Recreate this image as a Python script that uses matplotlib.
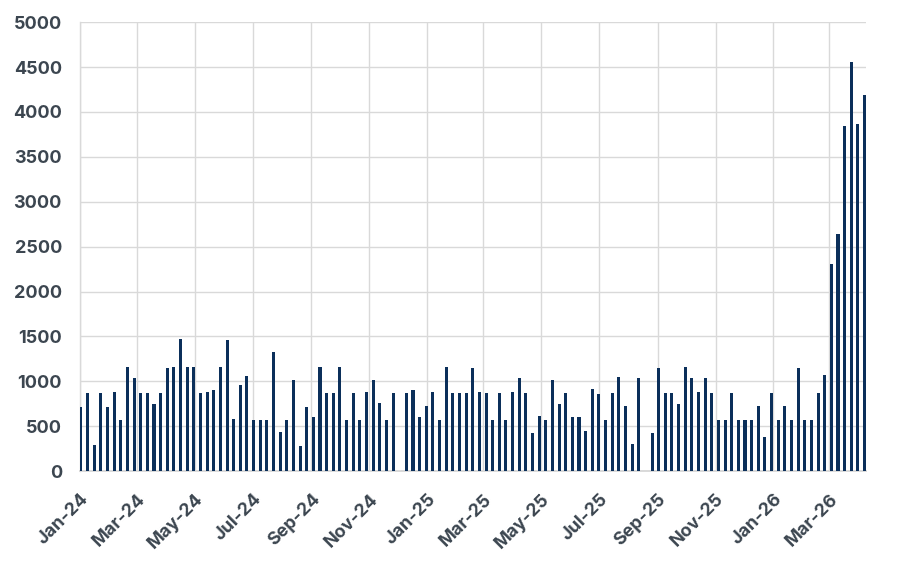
import matplotlib
matplotlib.use('Agg')
import matplotlib.pyplot as plt
import matplotlib.dates as mdates
import numpy as np
import pandas as pd

# weekly counts
values = [720, 865, 290, 865, 720, 885, 575, 1155, 1035, 865,
          875, 745, 865, 1145, 1165, 1470, 1165, 1165, 865, 885,
          900, 1155, 1460, 585, 965, 1065, 575, 575, 575, 1325,
          440, 575, 1010, 285, 720, 600, 1155, 865, 865, 1155,
          575, 865, 575, 885, 1010, 755, 575, 865, 0, 865,
          900, 600, 730, 885, 575, 1155, 865, 875, 865, 1145,
          885, 865, 575, 865, 575, 885, 1035, 865, 430, 610,
          575, 1020, 745, 875, 600, 600, 450, 920, 855, 575,
          865, 1045, 730, 305, 1035, 0, 430, 1145, 865, 865,
          745, 1155, 1035, 885, 1035, 865, 575, 575, 875, 575,
          575, 575, 730, 375, 865, 575, 730, 575, 1145, 575,
          575, 865, 1075, 2310, 2645, 3845, 4560, 3870, 4190]
weeks = pd.date_range('2024-01-02', periods=len(values), freq='7D')

bar_color = '#0b2f5a'
grid_color = '#d9d9d9'
text_color = '#3c4650'

plt.rcParams['font.family'] = ['Inter', 'DejaVu Sans']

fig = plt.figure(figsize=(9.05, 5.67), dpi=100)
ax = fig.add_axes([0.0884, 0.169, 0.869, 0.792])

ax.bar(weeks, values, width=3.2, color=bar_color, zorder=3)

ax.set_ylim(0, 5000)
ax.set_yticks(np.arange(0, 5001, 500))
ax.set_xlim(pd.Timestamp('2024-01-01'), pd.Timestamp('2026-04-09'))
ax.xaxis.set_major_locator(mdates.MonthLocator(bymonth=[1, 3, 5, 7, 9, 11]))
ax.xaxis.set_major_formatter(mdates.DateFormatter('%b-%y'))

ax.grid(True, color=grid_color, linewidth=1.0, zorder=0)
for side in ['top', 'right']:
    ax.spines[side].set_visible(False)
ax.spines['left'].set_color(grid_color)
ax.spines['bottom'].set_color(grid_color)
ax.spines['bottom'].set_linewidth(1.4)
ax.spines['left'].set_linewidth(1.0)
ax.tick_params(length=0)
ax.tick_params(axis='y', pad=13)
ax.tick_params(axis='x', pad=14)

for lab in ax.get_yticklabels():
    lab.set_fontsize(13)
    lab.set_fontweight('bold')
    lab.set_color(text_color)
for lab in ax.get_xticklabels():
    lab.set_fontsize(13)
    lab.set_fontweight('bold')
    lab.set_color(text_color)
    lab.set_rotation(45)
    lab.set_ha('right')
    lab.set_rotation_mode('anchor')

fig.savefig('out.png', dpi=100)
